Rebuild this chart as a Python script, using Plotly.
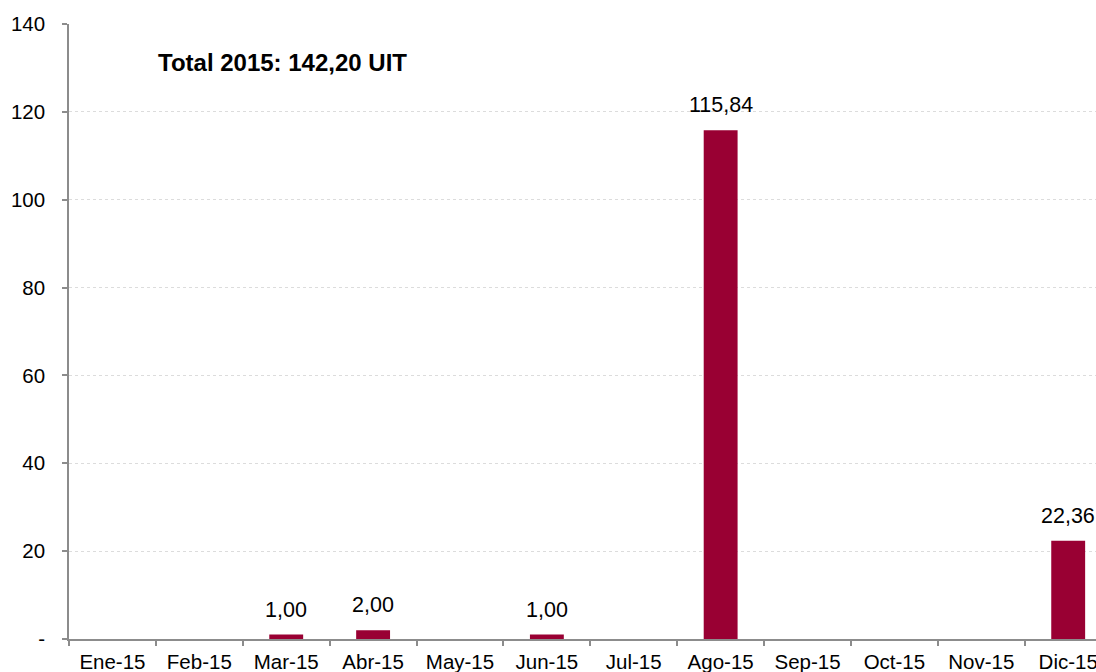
import plotly.graph_objects as go

months = ["Ene-15", "Feb-15", "Mar-15", "Abr-15", "May-15", "Jun-15",
          "Jul-15", "Ago-15", "Sep-15", "Oct-15", "Nov-15", "Dic-15"]
values = [0, 0, 1.00, 2.00, 0, 1.00, 0, 115.84, 0, 0, 0, 22.36]
y_ticks = [0, 20, 40, 60, 80, 100, 120, 140]
y_tick_labels = ["-", "20", "40", "60", "80", "100", "120", "140"]
total_text = "Total 2015: 142,20 UIT"

FONT = "Liberation Sans, Arial, sans-serif"
BAR_COLOR = "#990033"

fig = go.Figure()
fig.add_trace(go.Bar(
    x=months, y=values,
    marker=dict(color=BAR_COLOR, line=dict(width=0)),
    hoverinfo="x+y",
))

for m, v in zip(months, values):
    if v:
        fig.add_annotation(
            x=m, y=v, xref="x", yref="y",
            text=f"{v:.2f}".replace(".", ","),
            showarrow=False, yanchor="bottom", yshift=11,
            font=dict(family=FONT, size=21.5, color="#000000"),
        )

fig.add_annotation(
    x=0.085, y=0.938, xref="paper", yref="paper",
    text=f"<b>{total_text}</b>", showarrow=False,
    xanchor="left", yanchor="middle",
    font=dict(family=FONT, size=24, color="#000000"),
)

fig.update_layout(
    width=1096, height=672,
    margin=dict(l=69, r=0, t=24, b=33, autoexpand=False),
    paper_bgcolor="white", plot_bgcolor="white",
    bargap=0.61,
    showlegend=False,
    font=dict(family=FONT, size=20.5, color="#000000"),
)
fig.update_xaxes(
    type="category", range=[-0.5, 11.32],
    showline=True, linecolor="#8c8c8c", linewidth=1.5,
    ticks="outside", tickson="boundaries", ticklen=5, tickcolor="#8c8c8c", tickwidth=1.5,
    showgrid=False, automargin=False,
    tickfont=dict(family=FONT, size=20.5, color="#000000"),
    ticklabelstandoff=4,
)
fig.update_yaxes(
    range=[0, 140], tickvals=y_ticks, ticktext=y_tick_labels,
    showline=True, linecolor="#8c8c8c", linewidth=1.5,
    ticks="outside", ticklen=5, tickcolor="#8c8c8c", tickwidth=1.5,
    showgrid=True, gridcolor="#dcdcdc", griddash="dot", gridwidth=1,
    zeroline=False, automargin=False,
    tickfont=dict(family=FONT, size=20.5, color="#000000"),
    ticklabelstandoff=13,
)

fig.write_html(
    "out.html",
    config={"displayModeBar": False},
    post_script="document.body.style.margin='0';document.body.style.overflow='hidden';",
)
